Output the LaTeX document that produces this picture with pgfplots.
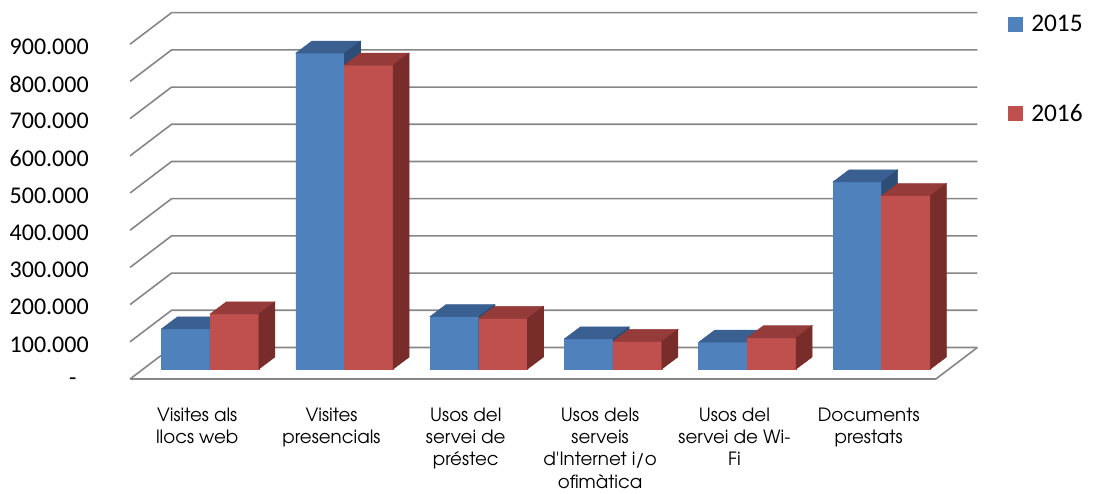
\documentclass[border=0pt]{standalone}
\usepackage{pgfplots}
\pgfplotsset{compat=1.18}
\usepackage{pgfplotstable}
\usepackage{fontspec}
\setmainfont{Carlito}
\newfontfamily\cg{TeX Gyre Adventor}
\definecolor{bfront}{HTML}{4F81BD}
\definecolor{btop}{HTML}{3A6091}
\definecolor{bside}{HTML}{2D4D76}
\definecolor{rfront}{HTML}{C0504D}
\definecolor{rtop}{HTML}{953B39}
\definecolor{rside}{HTML}{782D2B}
\definecolor{gridc}{RGB}{134,134,134}
\pgfdeclareplotmark{none3d}{}
\pgfplotstableread{
i a b
0 108 148
1 849 817
2 141 136
3 81 74
4 72 84
5 503 466
}\data
\begin{document}
\begin{tikzpicture}
\begin{axis}[
  scale only axis, width=822pt, height=369.75pt,
  xmin=-1.4684, xmax=6.6925, ymin=-306.45, ymax=1018.8,
  clip=false,
  axis line style={draw=none},
  major tick length=0pt,
  xtick={0,1,2,3,4,5},
  xticklabels={{Visites als\\llocs web},{Visites\\presencials},{Usos del\\servei de\\préstec},{Usos dels\\serveis\\d'Internet i/o\\ofimàtica},{Usos del\\servei de Wi-\\Fi},{Documents\\prestats}},
  xticklabel style={anchor=north, inner sep=0pt, yshift=64pt, align=center, font=\cg\fontsize{13.7}{16.7}\selectfont},
  ytick={0,100,200,300,400,500,600,700,800,900},
  yticklabels={-\hphantom{0},100.000,200.000,300.000,400.000,500.000,600.000,700.000,800.000,900.000},
  yticklabel style={anchor=east, inner sep=0pt, xshift=66.75pt, yshift=-2pt, font=\fontsize{18}{18}\selectfont},
  legend image code/.code={\fill[#1] (0pt,-5.625pt) rectangle (11.25pt,5.625pt);},
  legend style={at={(0.9197,0.9696)}, anchor=north west, draw=none, fill=none, inner sep=0pt, nodes={inner sep=0pt}, row sep=52.9pt, column sep=6pt, font=\fontsize{19}{19}\selectfont},
  legend cell align=left,
]
\coordinate (bbsw) at (rel axis cs:0,0);
\coordinate (bbne) at (rel axis cs:1,1);
\pgfplotsinvokeforeach{0,100,200,300,400,500,600,700,800,900}{
  \draw[gridc, line width=1.2pt] (axis cs:-0.5,#1) -- ++(31.125pt,23.625pt) -- ([shift={(31.125pt,23.625pt)}]axis cs:5.5,#1);
}
\draw[gridc, line width=1.2pt] (axis cs:-0.5,0) -- (axis cs:5.5,0) -- ++(31.125pt,23.625pt);

% front faces as bars
\addplot[forget plot, ybar, bar width=0.3625, bar shift=-0.18125, fill=bfront, draw=none, xshift=9.75pt, yshift=7.5pt] table[x=i,y=a]{\data};
\addplot[forget plot, ybar, bar width=0.3625, bar shift=0.18125, fill=rfront, draw=none, xshift=9.75pt, yshift=7.5pt] table[x=i,y=b]{\data};

% 3D faces of 2015 (mark at top-right front corner of each bar)
\addplot[forget plot, scatter, only marks, mark=none3d, xshift=9.75pt, yshift=7.5pt,
  visualization depends on={rawy\as\barh},
  scatter/@pre marker code/.code={%
    \fill[bfront] (-36.51pt,0pt) rectangle (0pt,{-0.279pt*\barh});
    \fill[btop] (0pt,0pt) -- (-36.51pt,0pt) -- (-24.51pt,9pt) -- (12pt,9pt) -- cycle;
    \fill[bside] (0pt,0pt) -- (12pt,9pt) -- (12pt,{9pt-0.279pt*\barh}) -- (0pt,{-0.279pt*\barh}) -- cycle;
  },
  scatter/@post marker code/.code={}] table[x=i,y=a]{\data};

% 3D faces of 2016
\addplot[forget plot, scatter, only marks, mark=none3d, xshift=9.75pt, yshift=7.5pt,
  visualization depends on={rawy\as\barh},
  scatter/@pre marker code/.code={%
    \fill[rfront] (-36.51pt,0pt) rectangle (0pt,{-0.279pt*\barh});
    \fill[rtop] (0pt,0pt) -- (-36.51pt,0pt) -- (-24.51pt,9pt) -- (12pt,9pt) -- cycle;
    \fill[rside] (0pt,0pt) -- (12pt,9pt) -- (12pt,{9pt-0.279pt*\barh}) -- (0pt,{-0.279pt*\barh}) -- cycle;
  },
  scatter/@post marker code/.code={}] table[x=i,y=b,x expr=\thisrow{i}+0.3625]{\data};

\addlegendimage{fill=bfront, draw=none}
\addlegendentry{2015}
\addlegendimage{fill=rfront, draw=none}
\addlegendentry{2016}
\end{axis}
\pgfresetboundingbox
\useasboundingbox (bbsw) rectangle (bbne);
\end{tikzpicture}
\end{document}
